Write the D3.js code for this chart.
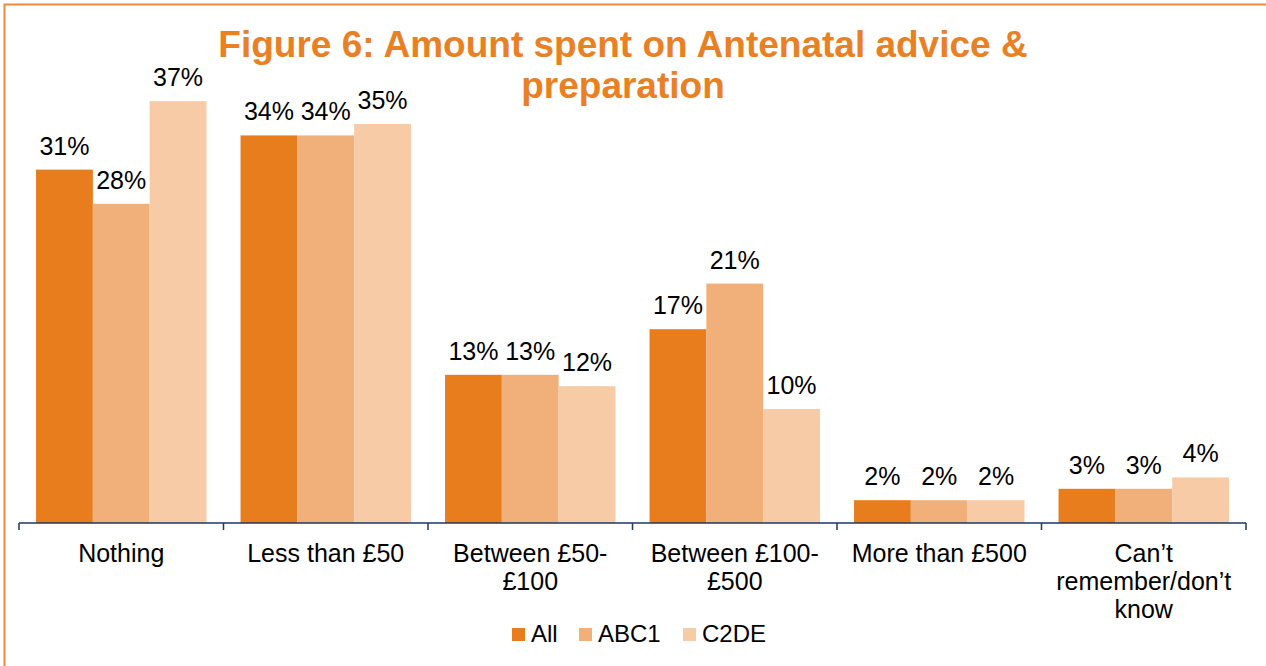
<!DOCTYPE html>
<html>
<head>
<meta charset="utf-8">
<script src="https://cdn.jsdelivr.net/npm/d3@7"></script>
<style>
  html, body { margin: 0; padding: 0; background: #fff; }
  svg { display: block; font-family: "Liberation Sans", Arial, sans-serif; }
</style>
</head>
<body>
<div id="art"></div>
<script>
const categories = ["Nothing", "Less than £50", "Between £50-\n£100", "Between £100-\n£500", "More than £500", "Can’t\nremember/don’t\nknow"];
const series = ["All", "ABC1", "C2DE"];
const allValues = [31, 34, 13, 17, 2, 3];
const abc1Values = [28, 34, 13, 21, 2, 3];
const c2deValues = [37, 35, 12, 10, 2, 4];
const colours = ["#E87D1E", "#F1B07A", "#F7CBA6"];
const titleLines = ["Figure 6: Amount spent on Antenatal advice &", "preparation"];

const config = {
  width: 1266,
  height: 666,
  baseY: 523,
  left: 19,
  right: 1246
};

function art() {
  const width = config.width;
  const height = config.height;

  const data = categories.map((c, i) => ({
    cat: c,
    vals: [allValues[i], abc1Values[i], c2deValues[i]].map((v, j) => ({ key: series[j], v: v }))
  }));

  const svg = d3.select("#art")
    .append("svg")
    .attr("width", width)
    .attr("height", height);

  // frame
  svg.append("rect")
    .attr("x", 4.5).attr("y", 4.5)
    .attr("width", width + 20).attr("height", height + 20)
    .attr("fill", "none")
    .attr("stroke", "#E98A3A")
    .attr("stroke-width", 2);

  const x0 = d3.scaleBand()
    .domain(categories)
    .range([config.left, config.right])
    .padding(0);

  const x1 = d3.scaleBand()
    .domain(series)
    .range([0, x0.bandwidth()])
    .paddingInner(0)
    .paddingOuter(0.3);

  const y = d3.scaleLinear()
    .domain([0, 40])
    .range([config.baseY, config.baseY - 456]);

  const colour = d3.scaleOrdinal().domain(series).range(colours);

  const groups = svg.selectAll("g.grp")
    .data(data)
    .enter()
    .append("g")
    .attr("class", "grp")
    .attr("transform", d => `translate(${x0(d.cat)},0)`);

  groups.selectAll("rect")
    .data(d => d.vals)
    .enter()
    .append("rect")
    .attr("x", d => x1(d.key))
    .attr("y", d => y(d.v))
    .attr("width", x1.bandwidth())
    .attr("height", d => y(0) - y(d.v))
    .attr("fill", d => colour(d.key));

  groups.selectAll("text.lbl")
    .data(d => d.vals)
    .enter()
    .append("text")
    .attr("class", "lbl")
    .attr("x", d => x1(d.key) + x1.bandwidth() / 2)
    .attr("y", d => y(d.v) - 15)
    .attr("text-anchor", "middle")
    .attr("font-size", 25)
    .attr("fill", "#000")
    .text(d => d.v + "%");

  // x axis
  const axis = svg.append("g")
    .attr("transform", `translate(0,${config.baseY})`);

  axis.append("line")
    .attr("x1", config.left).attr("x2", config.right)
    .attr("stroke", "#1F3763").attr("stroke-width", 1.5);

  axis.selectAll("line.sep")
    .data(categories.concat(["end"]))
    .enter()
    .append("line")
    .attr("class", "sep")
    .attr("x1", (d, i) => i < categories.length ? x0(d) : config.right)
    .attr("x2", (d, i) => i < categories.length ? x0(d) : config.right)
    .attr("y1", 0).attr("y2", 7)
    .attr("stroke", "#1F3763").attr("stroke-width", 1.5);

  const catLabels = axis.selectAll("text.cat")
    .data(categories)
    .enter()
    .append("text")
    .attr("class", "cat")
    .attr("x", d => x0(d) + x0.bandwidth() / 2)
    .attr("y", 39)
    .attr("text-anchor", "middle")
    .attr("font-size", 25)
    .attr("fill", "#000");

  catLabels.each(function (d) {
    const t = d3.select(this);
    d.split("\n").forEach((line, i) => {
      t.append("tspan")
        .attr("x", x0(d) + x0.bandwidth() / 2)
        .attr("dy", i === 0 ? 0 : 28)
        .text(line);
    });
  });

  // title
  svg.append("g").selectAll("text")
    .data(titleLines)
    .enter()
    .append("text")
    .attr("x", 623)
    .attr("y", (d, i) => 57 + i * 41)
    .attr("text-anchor", "middle")
    .attr("font-size", 37)
    .attr("font-weight", "bold")
    .attr("fill", "#E98024")
    .text(d => d);

  // legend
  const legendX = [512, 579, 683];
  const legend = svg.append("g").selectAll("g")
    .data(series)
    .enter()
    .append("g")
    .attr("transform", (d, i) => `translate(${legendX[i]},628)`);

  legend.append("rect")
    .attr("width", 13).attr("height", 13)
    .attr("fill", d => colour(d));

  legend.append("text")
    .attr("x", 19).attr("y", 14)
    .attr("font-size", 24)
    .attr("fill", "#000")
    .text(d => d);
}

window.onload = function () {
  art();
};
</script>
</body>
</html>
